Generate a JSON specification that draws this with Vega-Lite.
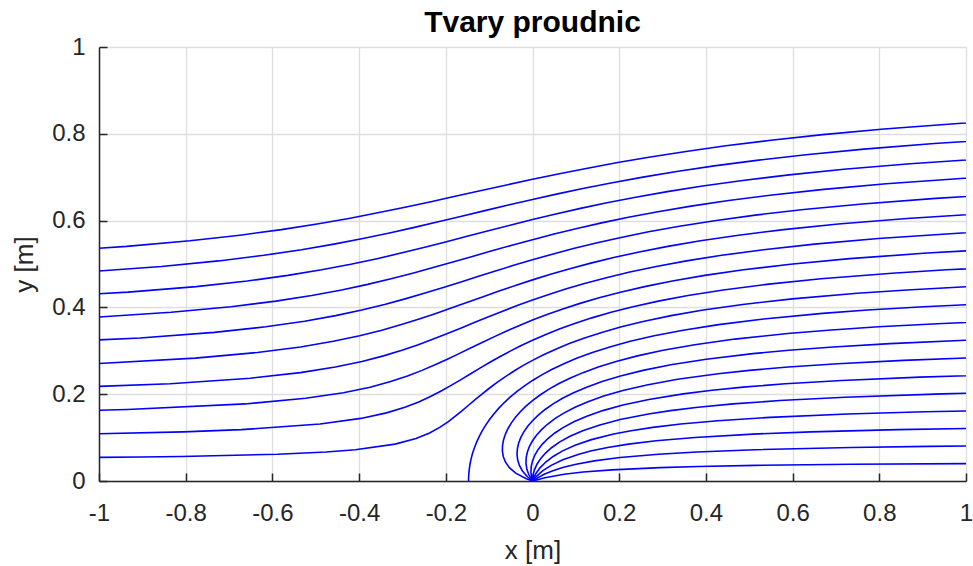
{
"$schema": "https://vega.github.io/schema/vega-lite/v6.json",
"width": 867, "height": 434,
"autosize": "none",
"padding": {"left": 99, "top": 47, "right": 7, "bottom": 85},
"background": "white",
"config": {"font": "Liberation Sans", "view": {"stroke": null}},
"title": {"text": "Tvary proudnic", "fontSize": 30, "fontWeight": "bold", "color": "#000000", "offset": 6, "dy": 9, "anchor": "middle"},
"data": {"values": [
{"s":1,"x":0,"y":0},{"s":1,"x":0.0288,"y":0.0077},{"s":1,"x":0.0727,"y":0.0155},{"s":1,"x":0.1168,"y":0.0206},{"s":1,"x":0.1832,"y":0.0257},{"s":1,"x":0.2939,"y":0.0309},{"s":1,"x":0.3825,"y":0.0335},{"s":1,"x":0.5154,"y":0.0360},{"s":1,"x":0.7368,"y":0.0386},{"s":1,"x":1.1795,"y":0.0412},
{"s":2,"x":0,"y":0},{"s":2,"x":0.0037,"y":0.0026},{"s":2,"x":0.0268,"y":0.0155},{"s":2,"x":0.0455,"y":0.0232},{"s":2,"x":0.0694,"y":0.0309},{"s":2,"x":0.1006,"y":0.0386},{"s":2,"x":0.1426,"y":0.0463},{"s":2,"x":0.2018,"y":0.0541},{"s":2,"x":0.2907,"y":0.0618},{"s":2,"x":0.3796,"y":0.0669},{"s":2,"x":0.5129,"y":0.0721},{"s":2,"x":0.7348,"y":0.0772},{"s":2,"x":0.9122,"y":0.0798},{"s":2,"x":1.1781,"y":0.0824},
{"s":3,"x":0,"y":0},{"s":3,"x":0.0086,"y":0.0103},{"s":3,"x":0.0232,"y":0.0232},{"s":3,"x":0.0430,"y":0.0360},{"s":3,"x":0.0699,"y":0.0489},{"s":3,"x":0.1070,"y":0.0618},{"s":3,"x":0.1364,"y":0.0695},{"s":3,"x":0.1735,"y":0.0772},{"s":3,"x":0.2214,"y":0.0850},{"s":3,"x":0.2853,"y":0.0927},{"s":3,"x":0.3747,"y":0.1004},{"s":3,"x":0.5087,"y":0.1081},{"s":3,"x":0.6424,"y":0.1133},{"s":3,"x":0.8426,"y":0.1184},{"s":3,"x":1.1757,"y":0.1236},
{"s":4,"x":0,"y":0},{"s":4,"x":0.0019,"y":0.0052},{"s":4,"x":0.0084,"y":0.0180},{"s":4,"x":0.0178,"y":0.0309},{"s":4,"x":0.0307,"y":0.0438},{"s":4,"x":0.0475,"y":0.0566},{"s":4,"x":0.0695,"y":0.0695},{"s":4,"x":0.0982,"y":0.0824},{"s":4,"x":0.1360,"y":0.0953},{"s":4,"x":0.1873,"y":0.1081},{"s":4,"x":0.2274,"y":0.1159},{"s":4,"x":0.2775,"y":0.1236},{"s":4,"x":0.3420,"y":0.1313},{"s":4,"x":0.4278,"y":0.1390},{"s":4,"x":0.5476,"y":0.1467},{"s":4,"x":0.7267,"y":0.1545},{"s":4,"x":0.9053,"y":0.1596},{"s":4,"x":1.1723,"y":0.1648},
{"s":5,"x":0,"y":0},{"s":5,"x":0.0011,"y":0.0129},{"s":5,"x":0.0045,"y":0.0257},{"s":5,"x":0.0103,"y":0.0386},{"s":5,"x":0.0187,"y":0.0515},{"s":5,"x":0.0300,"y":0.0644},{"s":5,"x":0.0446,"y":0.0772},{"s":5,"x":0.0631,"y":0.0901},{"s":5,"x":0.0864,"y":0.1030},{"s":5,"x":0.1159,"y":0.1159},{"s":5,"x":0.1534,"y":0.1287},{"s":5,"x":0.2022,"y":0.1416},{"s":5,"x":0.2676,"y":0.1545},{"s":5,"x":0.3183,"y":0.1622},{"s":5,"x":0.3816,"y":0.1699},{"s":5,"x":0.4628,"y":0.1776},{"s":5,"x":0.5704,"y":0.1854},{"s":5,"x":0.7206,"y":0.1931},{"s":5,"x":0.9447,"y":0.2008},{"s":5,"x":1.1680,"y":0.2060},
{"s":6,"x":0,"y":0},{"s":6,"x":-0.0021,"y":0.0077},{"s":6,"x":-0.0036,"y":0.0206},{"s":6,"x":-0.0029,"y":0.0335},{"s":6,"x":0,"y":0.0463},{"s":6,"x":0.0052,"y":0.0592},{"s":6,"x":0.0127,"y":0.0721},{"s":6,"x":0.0228,"y":0.0850},{"s":6,"x":0.0356,"y":0.0978},{"s":6,"x":0.0516,"y":0.1107},{"s":6,"x":0.0714,"y":0.1236},{"s":6,"x":0.0955,"y":0.1364},{"s":6,"x":0.1253,"y":0.1493},{"s":6,"x":0.1622,"y":0.1622},{"s":6,"x":0.2086,"y":0.1751},{"s":6,"x":0.2684,"y":0.1879},{"s":6,"x":0.3478,"y":0.2008},{"s":6,"x":0.4093,"y":0.2085},{"s":6,"x":0.4857,"y":0.2162},{"s":6,"x":0.5834,"y":0.2240},{"s":6,"x":0.7131,"y":0.2317},{"s":6,"x":0.8936,"y":0.2394},{"s":6,"x":1.1627,"y":0.2471},
{"s":7,"x":0,"y":0},{"s":7,"x":-0.0018,"y":0.0026},{"s":7,"x":-0.0089,"y":0.0155},{"s":7,"x":-0.0132,"y":0.0283},{"s":7,"x":-0.0150,"y":0.0412},{"s":7,"x":-0.0145,"y":0.0541},{"s":7,"x":-0.0118,"y":0.0669},{"s":7,"x":-0.0070,"y":0.0798},{"s":7,"x":0,"y":0.0927},{"s":7,"x":0.0092,"y":0.1056},{"s":7,"x":0.0209,"y":0.1184},{"s":7,"x":0.0352,"y":0.1313},{"s":7,"x":0.0525,"y":0.1442},{"s":7,"x":0.0732,"y":0.1570},{"s":7,"x":0.0981,"y":0.1699},{"s":7,"x":0.1280,"y":0.1828},{"s":7,"x":0.1642,"y":0.1957},{"s":7,"x":0.2085,"y":0.2085},{"s":7,"x":0.2639,"y":0.2214},{"s":7,"x":0.3346,"y":0.2343},{"s":7,"x":0.4280,"y":0.2471},{"s":7,"x":0.5002,"y":0.2549},{"s":7,"x":0.5898,"y":0.2626},{"s":7,"x":0.7042,"y":0.2703},{"s":7,"x":0.8557,"y":0.2780},{"s":7,"x":1.0665,"y":0.2858},
{"s":8,"x":0,"y":0},{"s":8,"x":-0.0123,"y":0.0103},{"s":8,"x":-0.0232,"y":0.0232},{"s":8,"x":-0.0302,"y":0.0360},{"s":8,"x":-0.0343,"y":0.0489},{"s":8,"x":-0.0357,"y":0.0618},{"s":8,"x":-0.0348,"y":0.0747},{"s":8,"x":-0.0319,"y":0.0875},{"s":8,"x":-0.0269,"y":0.1004},{"s":8,"x":-0.0200,"y":0.1133},{"s":8,"x":-0.0110,"y":0.1261},{"s":8,"x":0,"y":0.1390},{"s":8,"x":0.0133,"y":0.1519},{"s":8,"x":0.0291,"y":0.1648},{"s":8,"x":0.0476,"y":0.1776},{"s":8,"x":0.0693,"y":0.1905},{"s":8,"x":0.0948,"y":0.2034},{"s":8,"x":0.1249,"y":0.2162},{"s":8,"x":0.1604,"y":0.2291},{"s":8,"x":0.2031,"y":0.2420},{"s":8,"x":0.2549,"y":0.2549},{"s":8,"x":0.3191,"y":0.2677},{"s":8,"x":0.4007,"y":0.2806},{"s":8,"x":0.5083,"y":0.2935},{"s":8,"x":0.5911,"y":0.3012},{"s":8,"x":0.6938,"y":0.3089},{"s":8,"x":0.8249,"y":0.3166},{"s":8,"x":0.9983,"y":0.3244},{"s":8,"x":1.0694,"y":0.3269},
{"s":9,"x":0,"y":0},{"s":9,"x":-0.0142,"y":0.0052},{"s":9,"x":-0.0387,"y":0.0180},{"s":9,"x":-0.0535,"y":0.0309},{"s":9,"x":-0.0625,"y":0.0438},{"s":9,"x":-0.0675,"y":0.0566},{"s":9,"x":-0.0695,"y":0.0695},{"s":9,"x":-0.0691,"y":0.0824},{"s":9,"x":-0.0667,"y":0.0953},{"s":9,"x":-0.0624,"y":0.1081},{"s":9,"x":-0.0564,"y":0.1210},{"s":9,"x":-0.0487,"y":0.1339},{"s":9,"x":-0.0393,"y":0.1467},{"s":9,"x":-0.0281,"y":0.1596},{"s":9,"x":-0.0151,"y":0.1725},{"s":9,"x":0,"y":0.1854},{"s":9,"x":0.0174,"y":0.1982},{"s":9,"x":0.0372,"y":0.2111},{"s":9,"x":0.0600,"y":0.2240},{"s":9,"x":0.0862,"y":0.2369},{"s":9,"x":0.1165,"y":0.2497},{"s":9,"x":0.1516,"y":0.2626},{"s":9,"x":0.1929,"y":0.2755},{"s":9,"x":0.2419,"y":0.2883},{"s":9,"x":0.3012,"y":0.3012},{"s":9,"x":0.3743,"y":0.3141},{"s":9,"x":0.4669,"y":0.3270},{"s":9,"x":0.5886,"y":0.3398},{"s":9,"x":0.6820,"y":0.3475},{"s":9,"x":0.7980,"y":0.3553},{"s":9,"x":0.9457,"y":0.3630},{"s":9,"x":1.1410,"y":0.3707},
{"s":10,"x":-0.1475,"y":0},{"s":10,"x":-0.1475,"y":0.0052},{"s":10,"x":-0.1472,"y":0.0103},{"s":10,"x":-0.1470,"y":0.0155},{"s":10,"x":-0.1460,"y":0.0257},{"s":10,"x":-0.1442,"y":0.0386},{"s":10,"x":-0.1415,"y":0.0515},{"s":10,"x":-0.1381,"y":0.0644},{"s":10,"x":-0.1337,"y":0.0772},{"s":10,"x":-0.1287,"y":0.0901},{"s":10,"x":-0.1227,"y":0.1030},{"s":10,"x":-0.1158,"y":0.1159},{"s":10,"x":-0.1080,"y":0.1287},{"s":10,"x":-0.0991,"y":0.1416},{"s":10,"x":-0.0892,"y":0.1545},{"s":10,"x":-0.0781,"y":0.1673},{"s":10,"x":-0.0656,"y":0.1802},{"s":10,"x":-0.0517,"y":0.1931},{"s":10,"x":-0.0363,"y":0.2060},{"s":10,"x":-0.0192,"y":0.2188},{"s":10,"x":0,"y":0.2317},{"s":10,"x":0.0214,"y":0.2446},{"s":10,"x":0.0454,"y":0.2574},{"s":10,"x":0.0724,"y":0.2703},{"s":10,"x":0.1031,"y":0.2832},{"s":10,"x":0.1381,"y":0.2961},{"s":10,"x":0.1784,"y":0.3089},{"s":10,"x":0.2253,"y":0.3218},{"s":10,"x":0.2808,"y":0.3347},{"s":10,"x":0.3475,"y":0.3475},{"s":10,"x":0.4295,"y":0.3604},{"s":10,"x":0.5331,"y":0.3733},{"s":10,"x":0.6689,"y":0.3862},{"s":10,"x":0.7730,"y":0.3939},{"s":10,"x":0.9020,"y":0.4016},{"s":10,"x":1.0663,"y":0.4093},
{"s":11,"x":-1.0315,"y":0.0541},{"s":11,"x":-0.9050,"y":0.0553},{"s":11,"x":-0.8100,"y":0.0566},{"s":11,"x":-0.5878,"y":0.0618},{"s":11,"x":-0.4762,"y":0.0669},{"s":11,"x":-0.4088,"y":0.0721},{"s":11,"x":-0.3170,"y":0.0850},{"s":11,"x":-0.2687,"y":0.0978},{"s":11,"x":-0.2374,"y":0.1107},{"s":11,"x":-0.2141,"y":0.1236},{"s":11,"x":-0.1949,"y":0.1364},{"s":11,"x":-0.1780,"y":0.1493},{"s":11,"x":-0.1622,"y":0.1622},{"s":11,"x":-0.1469,"y":0.1751},{"s":11,"x":-0.1316,"y":0.1879},{"s":11,"x":-0.1159,"y":0.2008},{"s":11,"x":-0.0996,"y":0.2137},{"s":11,"x":-0.0825,"y":0.2265},{"s":11,"x":-0.0641,"y":0.2394},{"s":11,"x":-0.0444,"y":0.2523},{"s":11,"x":-0.0232,"y":0.2652},{"s":11,"x":0,"y":0.2780},{"s":11,"x":0.0255,"y":0.2909},{"s":11,"x":0.0536,"y":0.3038},{"s":11,"x":0.0848,"y":0.3166},{"s":11,"x":0.1200,"y":0.3295},{"s":11,"x":0.1597,"y":0.3424},{"s":11,"x":0.2051,"y":0.3553},{"s":11,"x":0.2578,"y":0.3681},{"s":11,"x":0.3197,"y":0.3810},{"s":11,"x":0.3939,"y":0.3939},{"s":11,"x":0.4848,"y":0.4068},{"s":11,"x":0.5993,"y":0.4196},{"s":11,"x":0.7491,"y":0.4325},{"s":11,"x":0.8640,"y":0.4402},{"s":11,"x":1.0060,"y":0.4479},
{"s":12,"x":-1.0288,"y":0.1081},{"s":12,"x":-0.8060,"y":0.1133},{"s":12,"x":-0.6716,"y":0.1184},{"s":12,"x":-0.4900,"y":0.1313},{"s":12,"x":-0.3961,"y":0.1442},{"s":12,"x":-0.3368,"y":0.1570},{"s":12,"x":-0.2943,"y":0.1699},{"s":12,"x":-0.2611,"y":0.1828},{"s":12,"x":-0.2331,"y":0.1957},{"s":12,"x":-0.2086,"y":0.2085},{"s":12,"x":-0.1858,"y":0.2214},{"s":12,"x":-0.1640,"y":0.2343},{"s":12,"x":-0.1427,"y":0.2471},{"s":12,"x":-0.1212,"y":0.2600},{"s":12,"x":-0.0993,"y":0.2729},{"s":12,"x":-0.0766,"y":0.2858},{"s":12,"x":-0.0526,"y":0.2986},{"s":12,"x":-0.0272,"y":0.3115},{"s":12,"x":0,"y":0.3244},{"s":12,"x":0.0295,"y":0.3372},{"s":12,"x":0.0618,"y":0.3501},{"s":12,"x":0.0973,"y":0.3630},{"s":12,"x":0.1368,"y":0.3759},{"s":12,"x":0.1812,"y":0.3887},{"s":12,"x":0.2319,"y":0.4016},{"s":12,"x":0.2902,"y":0.4145},{"s":12,"x":0.3586,"y":0.4274},{"s":12,"x":0.4402,"y":0.4402},{"s":12,"x":0.5399,"y":0.4531},{"s":12,"x":0.6654,"y":0.4660},{"s":12,"x":0.8293,"y":0.4788},{"s":12,"x":0.9549,"y":0.4866},{"s":12,"x":1.1102,"y":0.4943},
{"s":13,"x":-1.1358,"y":0.1596},{"s":13,"x":-0.9344,"y":0.1648},{"s":13,"x":-0.6630,"y":0.1776},{"s":13,"x":-0.5234,"y":0.1905},{"s":13,"x":-0.4361,"y":0.2034},{"s":13,"x":-0.3746,"y":0.2162},{"s":13,"x":-0.3273,"y":0.2291},{"s":13,"x":-0.2884,"y":0.2420},{"s":13,"x":-0.2549,"y":0.2549},{"s":13,"x":-0.2247,"y":0.2677},{"s":13,"x":-0.1965,"y":0.2806},{"s":13,"x":-0.1694,"y":0.2935},{"s":13,"x":-0.1429,"y":0.3064},{"s":13,"x":-0.1162,"y":0.3192},{"s":13,"x":-0.0890,"y":0.3321},{"s":13,"x":-0.0608,"y":0.3450},{"s":13,"x":-0.0313,"y":0.3578},{"s":13,"x":0,"y":0.3707},{"s":13,"x":0.0335,"y":0.3836},{"s":13,"x":0.0699,"y":0.3965},{"s":13,"x":0.1096,"y":0.4093},{"s":13,"x":0.1537,"y":0.4222},{"s":13,"x":0.2029,"y":0.4351},{"s":13,"x":0.2586,"y":0.4479},{"s":13,"x":0.3226,"y":0.4608},{"s":13,"x":0.3975,"y":0.4737},{"s":13,"x":0.4866,"y":0.4866},{"s":13,"x":0.5952,"y":0.4994},{"s":13,"x":0.7316,"y":0.5123},{"s":13,"x":0.9097,"y":0.5252},{"s":13,"x":1.0459,"y":0.5329},
{"s":14,"x":-1.1972,"y":0.2111},{"s":14,"x":-0.8359,"y":0.2240},{"s":14,"x":-0.6508,"y":0.2369},{"s":14,"x":-0.5355,"y":0.2497},{"s":14,"x":-0.4548,"y":0.2626},{"s":14,"x":-0.3934,"y":0.2755},{"s":14,"x":-0.3437,"y":0.2883},{"s":14,"x":-0.3012,"y":0.3012},{"s":14,"x":-0.2635,"y":0.3141},{"s":14,"x":-0.2289,"y":0.3270},{"s":14,"x":-0.1962,"y":0.3398},{"s":14,"x":-0.1644,"y":0.3527},{"s":14,"x":-0.1330,"y":0.3656},{"s":14,"x":-0.1014,"y":0.3784},{"s":14,"x":-0.0690,"y":0.3913},{"s":14,"x":-0.0354,"y":0.4042},{"s":14,"x":0,"y":0.4171},{"s":14,"x":0.0377,"y":0.4299},{"s":14,"x":0.0781,"y":0.4428},{"s":14,"x":0.1220,"y":0.4557},{"s":14,"x":0.1705,"y":0.4685},{"s":14,"x":0.2245,"y":0.4814},{"s":14,"x":0.2854,"y":0.4943},{"s":14,"x":0.3551,"y":0.5072},{"s":14,"x":0.4364,"y":0.5200},{"s":14,"x":0.5329,"y":0.5329},{"s":14,"x":0.6505,"y":0.5458},{"s":14,"x":0.7978,"y":0.5586},{"s":14,"x":0.9899,"y":0.5715},{"s":14,"x":1.0845,"y":0.5767},
{"s":15,"x":-1.4601,"y":0.2574},{"s":15,"x":-1.0088,"y":0.2703},{"s":15,"x":-0.7780,"y":0.2832},{"s":15,"x":-0.6348,"y":0.2961},{"s":15,"x":-0.5351,"y":0.3089},{"s":15,"x":-0.4595,"y":0.3218},{"s":15,"x":-0.3988,"y":0.3347},{"s":15,"x":-0.3475,"y":0.3475},{"s":15,"x":-0.3024,"y":0.3604},{"s":15,"x":-0.2614,"y":0.3733},{"s":15,"x":-0.2229,"y":0.3862},{"s":15,"x":-0.1860,"y":0.3990},{"s":15,"x":-0.1500,"y":0.4119},{"s":15,"x":-0.1138,"y":0.4248},{"s":15,"x":-0.0772,"y":0.4376},{"s":15,"x":-0.0394,"y":0.4505},{"s":15,"x":0,"y":0.4634},{"s":15,"x":0.0417,"y":0.4763},{"s":15,"x":0.0862,"y":0.4891},{"s":15,"x":0.1345,"y":0.5020},{"s":15,"x":0.1874,"y":0.5149},{"s":15,"x":0.2461,"y":0.5277},{"s":15,"x":0.3121,"y":0.5406},{"s":15,"x":0.3875,"y":0.5535},{"s":15,"x":0.4752,"y":0.5664},{"s":15,"x":0.5793,"y":0.5792},{"s":15,"x":0.7056,"y":0.5921},{"s":15,"x":0.8640,"y":0.6050},{"s":15,"x":1.0702,"y":0.6179},
{"s":16,"x":-1.1818,"y":0.3166},{"s":16,"x":-0.9054,"y":0.3295},{"s":16,"x":-0.7343,"y":0.3424},{"s":16,"x":-0.6154,"y":0.3553},{"s":16,"x":-0.5257,"y":0.3681},{"s":16,"x":-0.4541,"y":0.3810},{"s":16,"x":-0.3939,"y":0.3939},{"s":16,"x":-0.3413,"y":0.4068},{"s":16,"x":-0.2938,"y":0.4196},{"s":16,"x":-0.2498,"y":0.4325},{"s":16,"x":-0.2077,"y":0.4454},{"s":16,"x":-0.1668,"y":0.4582},{"s":16,"x":-0.1262,"y":0.4711},{"s":16,"x":-0.0854,"y":0.4840},{"s":16,"x":-0.0435,"y":0.4969},{"s":16,"x":0,"y":0.5097},{"s":16,"x":0.0457,"y":0.5226},{"s":16,"x":0.0944,"y":0.5355},{"s":16,"x":0.1469,"y":0.5483},{"s":16,"x":0.2042,"y":0.5612},{"s":16,"x":0.2677,"y":0.5741},{"s":16,"x":0.3389,"y":0.5870},{"s":16,"x":0.4200,"y":0.5998},{"s":16,"x":0.5141,"y":0.6127},{"s":16,"x":0.6256,"y":0.6256},{"s":16,"x":0.7609,"y":0.6384},{"s":16,"x":0.9301,"y":0.6513},{"s":16,"x":1.1504,"y":0.6642},
{"s":17,"x":-1.3547,"y":0.3630},{"s":17,"x":-1.0327,"y":0.3759},{"s":17,"x":-0.8337,"y":0.3887},{"s":17,"x":-0.6956,"y":0.4016},{"s":17,"x":-0.5920,"y":0.4145},{"s":17,"x":-0.5093,"y":0.4274},{"s":17,"x":-0.4402,"y":0.4402},{"s":17,"x":-0.3802,"y":0.4531},{"s":17,"x":-0.3263,"y":0.4660},{"s":17,"x":-0.2765,"y":0.4788},{"s":17,"x":-0.2293,"y":0.4917},{"s":17,"x":-0.1837,"y":0.5046},{"s":17,"x":-0.1387,"y":0.5175},{"s":17,"x":-0.0935,"y":0.5303},{"s":17,"x":-0.0475,"y":0.5432},{"s":17,"x":0,"y":0.5561},{"s":17,"x":0.0498,"y":0.5689},{"s":17,"x":0.1026,"y":0.5818},{"s":17,"x":0.1593,"y":0.5947},{"s":17,"x":0.2212,"y":0.6076},{"s":17,"x":0.2893,"y":0.6204},{"s":17,"x":0.3657,"y":0.6333},{"s":17,"x":0.4524,"y":0.6462},{"s":17,"x":0.5530,"y":0.6590},{"s":17,"x":0.6719,"y":0.6719},{"s":17,"x":0.8162,"y":0.6848},{"s":17,"x":0.9963,"y":0.6977},{"s":17,"x":1.0823,"y":0.7028},
{"s":18,"x":-1.1599,"y":0.4222},{"s":18,"x":-0.9330,"y":0.4351},{"s":18,"x":-0.7759,"y":0.4479},{"s":18,"x":-0.6580,"y":0.4608},{"s":18,"x":-0.5645,"y":0.4737},{"s":18,"x":-0.4866,"y":0.4866},{"s":18,"x":-0.4191,"y":0.4994},{"s":18,"x":-0.3587,"y":0.5123},{"s":18,"x":-0.3033,"y":0.5252},{"s":18,"x":-0.2508,"y":0.5380},{"s":18,"x":-0.2005,"y":0.5509},{"s":18,"x":-0.1510,"y":0.5638},{"s":18,"x":-0.1017,"y":0.5767},{"s":18,"x":-0.0516,"y":0.5895},{"s":18,"x":0,"y":0.6024},{"s":18,"x":0.0538,"y":0.6153},{"s":18,"x":0.1107,"y":0.6281},{"s":18,"x":0.1717,"y":0.6410},{"s":18,"x":0.2380,"y":0.6539},{"s":18,"x":0.3109,"y":0.6668},{"s":18,"x":0.3924,"y":0.6796},{"s":18,"x":0.4849,"y":0.6925},{"s":18,"x":0.5919,"y":0.7054},{"s":18,"x":0.7182,"y":0.7183},{"s":18,"x":0.8713,"y":0.7311},{"s":18,"x":1.0625,"y":0.7440},
{"s":19,"x":-1.2873,"y":0.4685},{"s":19,"x":-1.0324,"y":0.4814},{"s":19,"x":-0.8561,"y":0.4943},{"s":19,"x":-0.7242,"y":0.5071},{"s":19,"x":-0.6198,"y":0.5200},{"s":19,"x":-0.5329,"y":0.5329},{"s":19,"x":-0.4579,"y":0.5458},{"s":19,"x":-0.3912,"y":0.5586},{"s":19,"x":-0.3300,"y":0.5715},{"s":19,"x":-0.2725,"y":0.5844},{"s":19,"x":-0.2174,"y":0.5973},{"s":19,"x":-0.1634,"y":0.6101},{"s":19,"x":-0.1098,"y":0.6230},{"s":19,"x":-0.0557,"y":0.6359},{"s":19,"x":0,"y":0.6487},{"s":19,"x":0.0579,"y":0.6616},{"s":19,"x":0.1189,"y":0.6745},{"s":19,"x":0.1842,"y":0.6874},{"s":19,"x":0.2549,"y":0.7002},{"s":19,"x":0.3326,"y":0.7131},{"s":19,"x":0.4192,"y":0.7260},{"s":19,"x":0.5173,"y":0.7388},{"s":19,"x":0.6308,"y":0.7517},{"s":19,"x":0.7645,"y":0.7646},{"s":19,"x":0.9266,"y":0.7775},{"s":19,"x":1.1287,"y":0.7903},
{"s":20,"x":-1.1317,"y":0.5278},{"s":20,"x":-0.9364,"y":0.5406},{"s":20,"x":-0.7904,"y":0.5535},{"s":20,"x":-0.6750,"y":0.5664},{"s":20,"x":-0.5793,"y":0.5792},{"s":20,"x":-0.4969,"y":0.5921},{"s":20,"x":-0.4236,"y":0.6050},{"s":20,"x":-0.3568,"y":0.6179},{"s":20,"x":-0.2941,"y":0.6307},{"s":20,"x":-0.2342,"y":0.6436},{"s":20,"x":-0.1759,"y":0.6565},{"s":20,"x":-0.1180,"y":0.6693},{"s":20,"x":-0.0597,"y":0.6822},{"s":20,"x":0,"y":0.6951},{"s":20,"x":0.0620,"y":0.7080},{"s":20,"x":0.1270,"y":0.7208},{"s":20,"x":0.1966,"y":0.7337},{"s":20,"x":0.2718,"y":0.7466},{"s":20,"x":0.3541,"y":0.7594},{"s":20,"x":0.4459,"y":0.7723},{"s":20,"x":0.5498,"y":0.7852},{"s":20,"x":0.6697,"y":0.7981},{"s":20,"x":0.8110,"y":0.8109},{"s":20,"x":0.9818,"y":0.8238},{"s":20,"x":1.1948,"y":0.8367}
]},
"layer": [
{
"mark": {"type": "line", "color": "#0000ff", "strokeWidth": 1.6, "clip": true},
"encoding": {
"x": {"field": "x", "type": "quantitative", "scale": {"domain": [-1, 1], "nice": false, "zero": false},
 "axis": {"title": "x [m]", "values": [-1,-0.8,-0.6,-0.4,-0.2,0,0.2,0.4,0.6,0.8,1], "format": "~g", "labelExpr": "replace(datum.label, '\u2212', '-')", "labelFlush": false, "labelOverlap": false, "labelFontSize": 24, "labelColor": "#262626", "labelPadding": 20, "ticks": false, "domainColor": "#262626", "domainWidth": 1.5, "grid": true, "gridColor": "#dedede", "gridWidth": 1.3, "titleFontSize": 26, "titleFontWeight": "normal", "titleColor": "#262626", "titlePadding": 12}},
"y": {"field": "y", "type": "quantitative", "scale": {"domain": [0, 1], "nice": false},
 "axis": {"title": "y [m]", "values": [0,0.2,0.4,0.6,0.8,1], "format": "~g", "labelFlush": false, "labelOverlap": false, "labelFontSize": 24, "labelColor": "#262626", "labelPadding": 14, "ticks": false, "domainColor": "#262626", "domainWidth": 1.5, "grid": true, "gridColor": "#dedede", "gridWidth": 1.3, "titleFontSize": 26, "titleFontWeight": "normal", "titleColor": "#262626", "titlePadding": 14}},
"detail": {"field": "s", "type": "nominal"},
"order": {"value": null}
}
},
{
"mark": {"type": "line", "opacity": 0, "clip": true},
"encoding": {
"x": {"field": "x", "type": "quantitative",
 "axis": {"orient": "top", "offset": -434, "title": null, "values": [-1,-0.8,-0.6,-0.4,-0.2,0,0.2,0.4,0.6,0.8,1], "labels": false, "domain": false, "grid": false, "ticks": true, "tickSize": 8, "tickColor": "#262626", "tickWidth": 1.5}},
"y": {"field": "y", "type": "quantitative",
 "axis": {"orient": "right", "offset": -867, "title": null, "values": [0,0.2,0.4,0.6,0.8,1], "labels": false, "domain": false, "grid": false, "ticks": true, "tickSize": 8, "tickColor": "#262626", "tickWidth": 1.5}},
"detail": {"field": "s", "type": "nominal"},
"order": {"value": null}
}
}
],
"resolve": {"axis": {"x": "independent", "y": "independent"}}
}
